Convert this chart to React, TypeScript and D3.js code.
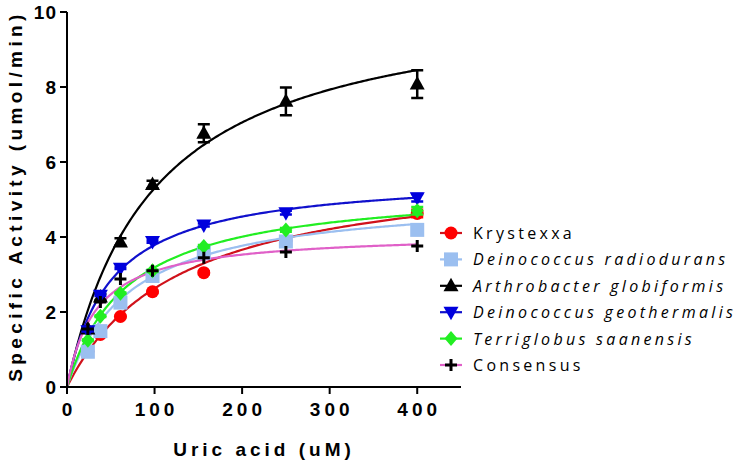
import React, { useEffect, useRef } from 'react';
import * as d3 from 'd3';

// substrate concentrations (uM)
const conc = [23.84, 38.15, 61.04, 97.66, 156.25, 250, 400];

const seriesNames = [
  'Krystexxa',
  'Deinococcus radiodurans',
  'Arthrobacter globiformis',
  'Deinococcus geothermalis',
  'Terriglobus saanensis',
  'Consensus',
];
const italicNames = [false, true, true, true, true, false];

const krystexxa = [0.95, 1.4, 1.88, 2.54, 3.05, 3.9, 4.63];
const radiodurans = [0.94, 1.49, 2.25, 2.96, 3.58, 3.88, 4.19];
const globiformis = [1.55, 2.4, 3.87, 5.4, 6.77, 7.62, 8.08];
const geothermalis = [1.5, 2.45, 3.17, 3.88, 4.32, 4.65, 5.05];
const saanensis = [1.25, 1.89, 2.5, 3.1, 3.75, 4.19, 4.7];
const consensus = [1.55, 2.27, 2.88, 3.1, 3.45, 3.6, 3.76];

const globiformisErr = [0.05, 0.08, 0.1, 0.1, 0.24, 0.37, 0.37];
const smallErr = [0.02, 0.02, 0.02, 0.03, 0.04, 0.05, 0.1];
const noErr = [0, 0, 0, 0, 0, 0, 0];

// Michaelis-Menten fit parameters
const vmax = [6.02, 5.14, 10.54, 5.68, 5.39, 4.12];
const km = [129, 73, 98.8, 50, 69, 33.4];

const xTicks = [0, 100, 200, 300, 400];
const yTicks = [0, 2, 4, 6, 8, 10];

const markerColors = ['#ff0000', '#9bbff0', '#000000', '#0000dd', '#22ee22', '#000000'];
const lineColors = ['#d0121b', '#9bbff0', '#000000', '#1010cc', '#22ee22', '#e060c8'];
const shapes = ['circle', 'square', 'up', 'down', 'diamond', 'plus'];

const App: React.FC = () => {
  const svgRef = useRef<SVGSVGElement>(null);

  useEffect(() => {
    if (!svgRef.current) return;
    const svg = d3.select(svgRef.current);
    svg.selectAll('*').remove();

    const x = d3.scaleLinear().domain([0, 450]).range([67, 461]);
    const y = d3.scaleLinear().domain([0, 10]).range([387, 12]);

    const values = [krystexxa, radiodurans, globiformis, geothermalis, saanensis, consensus];
    const errors = [smallErr, smallErr, globiformisErr, smallErr, smallErr, noErr];

    const drawMarker = (g: d3.Selection<SVGGElement, unknown, null, undefined>, shape: string, color: string, cx: number, cy: number) => {
      if (shape === 'circle') {
        g.append('circle').attr('cx', cx).attr('cy', cy).attr('r', 6.5).attr('fill', color);
      } else if (shape === 'square') {
        g.append('rect').attr('x', cx - 7).attr('y', cy - 7).attr('width', 14).attr('height', 14).attr('fill', color);
      } else if (shape === 'up') {
        g.append('path').attr('d', `M${cx},${cy - 8}L${cx + 7.5},${cy + 5.5}L${cx - 7.5},${cy + 5.5}Z`).attr('fill', color);
      } else if (shape === 'down') {
        g.append('path').attr('d', `M${cx},${cy + 8}L${cx + 7.5},${cy - 5.5}L${cx - 7.5},${cy - 5.5}Z`).attr('fill', color);
      } else if (shape === 'diamond') {
        g.append('path').attr('d', `M${cx},${cy - 7.5}L${cx + 6.5},${cy}L${cx},${cy + 7.5}L${cx - 6.5},${cy}Z`).attr('fill', color);
      } else {
        g.append('path').attr('d', `M${cx - 6},${cy}H${cx + 6}M${cx},${cy - 6}V${cy + 6}`)
          .attr('stroke', color).attr('stroke-width', 3).attr('fill', 'none');
      }
    };

    // fitted curves
    const samples = d3.range(0, 401, 2);
    const curve = d3.line<[number, number]>().x(d => x(d[0])).y(d => y(d[1]));
    values.forEach((_, i) => {
      const pts = samples.map(s => [s, (vmax[i] * s) / (km[i] + s)] as [number, number]);
      svg.append('path')
        .attr('d', curve(pts))
        .attr('fill', 'none')
        .attr('stroke', lineColors[i])
        .attr('stroke-width', 2.2);
    });

    // error bars and points
    values.forEach((vals, i) => {
      const g = svg.append('g');
      vals.forEach((v, j) => {
        const cx = x(conc[j]);
        const e = errors[i][j];
        if (e > 0) {
          g.append('path')
            .attr('d', `M${cx},${y(v - e)}V${y(v + e)}M${cx - 6},${y(v - e)}H${cx + 6}M${cx - 6},${y(v + e)}H${cx + 6}`)
            .attr('stroke', markerColors[i])
            .attr('stroke-width', 2.5)
            .attr('fill', 'none');
        }
        drawMarker(g, shapes[i], markerColors[i], cx, y(v));
      });
    });

    // axes
    const axisFont = "'Liberation Sans', Arial, sans-serif";
    const xa = svg.append('g');
    xa.append('line').attr('x1', x(0)).attr('x2', x(450)).attr('y1', y(0)).attr('y2', y(0))
      .attr('stroke', '#000').attr('stroke-width', 2);
    xTicks.forEach(t => {
      xa.append('line').attr('x1', x(t)).attr('x2', x(t)).attr('y1', y(0)).attr('y2', y(0) + 7)
        .attr('stroke', '#000').attr('stroke-width', 2);
      xa.append('text').attr('x', x(t) + 2).attr('y', 416).attr('text-anchor', 'middle')
        .attr('font-family', axisFont).attr('font-weight', 'bold').attr('font-size', 19)
        .attr('letter-spacing', 4).text(String(t));
    });
    const ya = svg.append('g');
    ya.append('line').attr('x1', x(0)).attr('x2', x(0)).attr('y1', y(0)).attr('y2', y(10))
      .attr('stroke', '#000').attr('stroke-width', 2);
    yTicks.forEach(t => {
      ya.append('line').attr('x1', x(0) - 7).attr('x2', x(0)).attr('y1', y(t)).attr('y2', y(t))
        .attr('stroke', '#000').attr('stroke-width', 2);
      ya.append('text').attr('x', x(0) - 10).attr('y', y(t) + 7).attr('text-anchor', 'end')
        .attr('font-family', axisFont).attr('font-weight', 'bold').attr('font-size', 19)
        .attr('letter-spacing', 1).text(String(t));
    });

    svg.append('text').attr('x', 264).attr('y', 456).attr('text-anchor', 'middle')
      .attr('font-family', axisFont).attr('font-weight', 'bold').attr('font-size', 19)
      .attr('letter-spacing', 4).text('Uric acid (uM)');
    svg.append('text').attr('transform', 'translate(22,196) rotate(-90)').attr('text-anchor', 'middle')
      .attr('font-family', axisFont).attr('font-weight', 'bold').attr('font-size', 19)
      .attr('letter-spacing', 4.4).text('Specific Activity (umol/min)');

    // legend
    const legend = svg.append('g');
    seriesNames.forEach((name, i) => {
      const ly = 233 + i * 26.4;
      legend.append('line').attr('x1', 440).attr('x2', 462).attr('y1', ly).attr('y2', ly)
        .attr('stroke', lineColors[i]).attr('stroke-width', 2.2);
      drawMarker(legend, shapes[i], markerColors[i], 451, ly);
      legend.append('text').attr('x', 473).attr('y', ly + 6)
        .attr('font-family', "'Open Sans', sans-serif").attr('font-size', 16)
        .attr('font-style', italicNames[i] ? 'italic' : 'normal')
        .attr('letter-spacing', 3.3).text(name);
    });
  }, []);

  return (
    <svg ref={svgRef} width={737} height={468}
      style={{ position: 'absolute', left: 0, top: 0, background: '#fff' }} />
  );
};

export default App;
